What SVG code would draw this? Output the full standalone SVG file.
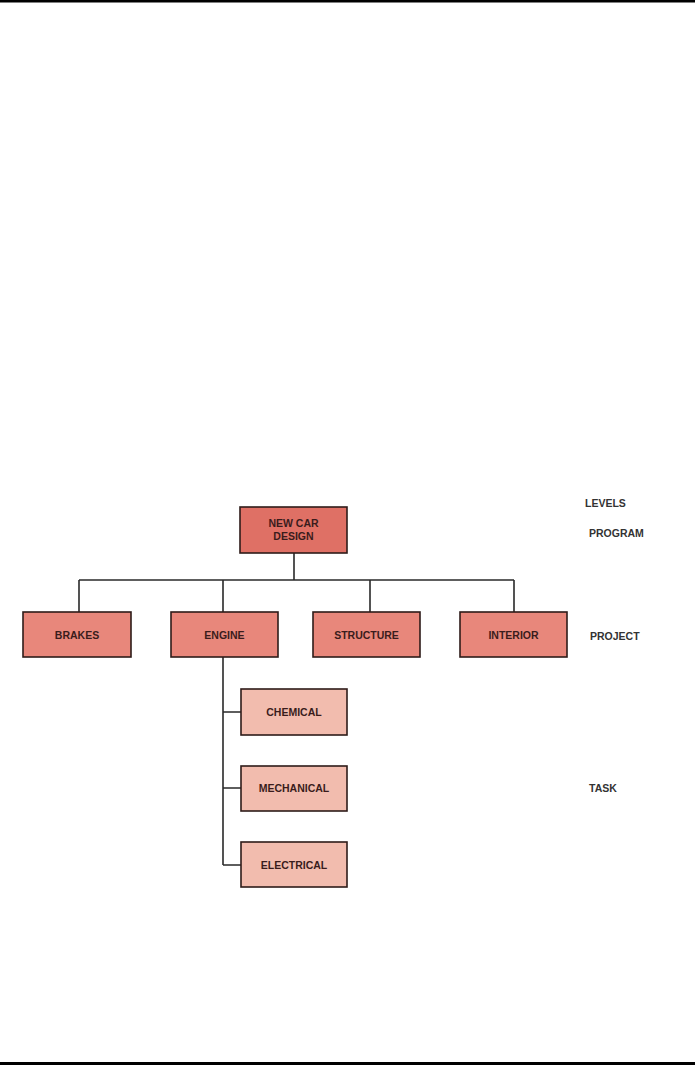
<svg xmlns="http://www.w3.org/2000/svg" width="695" height="1066" viewBox="0 0 695 1066">
<style>
.box{stroke:#2e1c1a;stroke-width:1.6}
.prog{fill:#df7065}
.proj{fill:#e8877b}
.task{fill:#f2bcae}
.lbl{font-family:"Liberation Sans",Arial,sans-serif;font-weight:bold;font-size:10.5px;fill:#3a1c1c;text-anchor:middle}
.lvl{font-family:"Liberation Sans",Arial,sans-serif;font-weight:bold;font-size:10.5px;fill:#333}
.conn{stroke:#2a2a2a;stroke-width:1.6;fill:none}
</style>
<rect x="0" y="0" width="695" height="1066" fill="#fff"/>
<rect x="0" y="0" width="695" height="2.5" fill="#000"/>
<rect x="0" y="1062" width="695" height="3" fill="#000"/>
<g id="connectors">
<path class="conn" d="M294 553V580M79 580H514M79 580V612M223 580V612M370 580V612M514 580V612"/>
<path class="conn" d="M223 657V865M223 712H241M223 788H241M223 865H241"/>
</g>
<g id="n-newcar"><rect class="box prog" x="240" y="507" width="107" height="46"/><text class="lbl" x="293.5" y="527">NEW CAR</text><text class="lbl" x="293.5" y="540">DESIGN</text></g>
<g id="n-brakes"><rect class="box proj" x="23" y="612" width="108" height="45"/><text class="lbl" x="77" y="639">BRAKES</text></g>
<g id="n-engine"><rect class="box proj" x="171" y="612" width="107" height="45"/><text class="lbl" x="224.5" y="639">ENGINE</text></g>
<g id="n-structure"><rect class="box proj" x="313" y="612" width="107" height="45"/><text class="lbl" x="366.5" y="639">STRUCTURE</text></g>
<g id="n-interior"><rect class="box proj" x="460" y="612" width="107" height="45"/><text class="lbl" x="513.5" y="639">INTERIOR</text></g>
<g id="n-chemical"><rect class="box task" x="241" y="689" width="106" height="46"/><text class="lbl" x="294" y="716">CHEMICAL</text></g>
<g id="n-mechanical"><rect class="box task" x="241" y="766" width="106" height="45"/><text class="lbl" x="294" y="792">MECHANICAL</text></g>
<g id="n-electrical"><rect class="box task" x="241" y="842" width="106" height="45"/><text class="lbl" x="294" y="869">ELECTRICAL</text></g>
<g id="levels">
<text class="lvl" x="585" y="507">LEVELS</text>
<text class="lvl" x="589" y="537">PROGRAM</text>
<text class="lvl" x="590" y="640">PROJECT</text>
<text class="lvl" x="589" y="792">TASK</text>
</g>
</svg>
